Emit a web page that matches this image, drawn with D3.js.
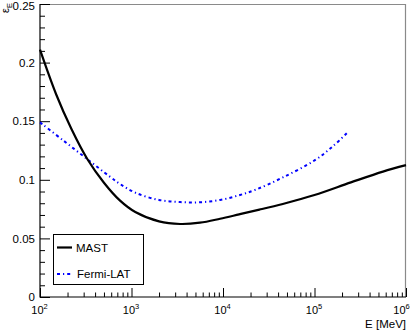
<!DOCTYPE html>
<html><head><meta charset="utf-8">
<script src="https://cdn.jsdelivr.net/npm/d3@7"></script>
<style>
html,body{margin:0;padding:0;background:#fff;}
svg{display:block;font-family:"Liberation Sans",Arial,Helvetica,sans-serif;}
</style></head>
<body>
<svg id="c" width="414" height="330"></svg>
<script>
// ---- data ----
const mastE = [100,150,220,330,500,750,1100,2000,3400,5600,9300,15000,25000,45000,100000,250000,560000,1000000];
const mastV = [0.211,0.173,0.1435,0.1175,0.0975,0.0822,0.0725,0.0645,0.0623,0.0634,0.0668,0.0705,0.0745,0.0794,0.087,0.0978,0.107,0.1125];
const fermiE = [100,180,330,580,750,1100,2000,3400,5600,9300,15000,23000,45000,100000,160000,225000];
const fermiV = [0.149,0.1335,0.1175,0.1027,0.0964,0.089,0.0828,0.081,0.0808,0.0828,0.0868,0.0917,0.102,0.1165,0.1288,0.1397];
const yTicks = [0,0.05,0.1,0.15,0.2,0.25];
const yTickLabels = ["0","0.05","0.1","0.15","0.2","0.25"];
const xTicks = [1e2,1e3,1e4,1e5,1e6];
const xTickExp = ["2","3","4","5","6"];
const seriesNames = ["MAST","Fermi-LAT"];

const svg = d3.select("#c");
const L=40, R=406, T=4, B=297;
const x = d3.scaleLog().domain([1e2,1e6]).range([L,R]);
const y = d3.scaleLinear().domain([0,0.25]).range([B,T]);

svg.append("rect").attr("width",414).attr("height",330).attr("fill","#fff");

// frame top/right
svg.append("line").attr("x1",L).attr("x2",R).attr("y1",T+0.5).attr("y2",T+0.5).attr("stroke","#8a8a8a").attr("stroke-width",1.2);
svg.append("line").attr("x1",R-0.5).attr("x2",R-0.5).attr("y1",T).attr("y2",B).attr("stroke","#8a8a8a").attr("stroke-width",1.2);

// y minor ticks
const yMinor = d3.range(0,26).map(i=>i/100).filter(v=>Math.round(v*100)%5!==0);
const gyMinor = svg.append("g").attr("transform",`translate(${L},0)`)
  .call(d3.axisLeft(y).tickValues(yMinor).tickSize(-5).tickFormat(""));
gyMinor.select(".domain").remove();
// y major
const gy = svg.append("g").attr("transform",`translate(${L},0)`)
  .call(d3.axisLeft(y).tickValues(yTicks).tickSize(-10).tickPadding(5)
    .tickFormat((d,i)=>yTickLabels[i]));
gy.select(".domain").remove();
gy.selectAll("text").attr("font-size",11.5).attr("fill","#000").attr("font-family","Liberation Sans, Arial, sans-serif")
  .attr("y",d=>d===0.25?2:0);
svg.selectAll(".tick line").attr("stroke","#000");

// x minor
const xMinor = [];
for (let d=2; d<6; d++) for (let m=2;m<=9;m++) xMinor.push(m*Math.pow(10,d));
const gxMinor = svg.append("g").attr("transform",`translate(0,${B})`)
  .call(d3.axisBottom(x).tickValues(xMinor).tickSize(-4.5).tickFormat(""));
gxMinor.select(".domain").remove();
const gx = svg.append("g").attr("transform",`translate(0,${B})`)
  .call(d3.axisBottom(x).tickValues(xTicks).tickSize(-9).tickFormat(""));
gx.select(".domain").remove();
svg.selectAll(".tick line").attr("stroke","#000");
gx.selectAll(".tick").each(function(d,i){
  const t = d3.select(this).append("text").attr("y",16.5).attr("text-anchor","middle")
    .attr("font-size",11).attr("fill","#000").attr("x",i===xTicks.length-1?-5:-1);
  t.append("tspan").text("10");
  t.append("tspan").attr("dy",-4.5).attr("font-size",7.5).text(xTickExp[i]);
});

// axis lines left/bottom
svg.append("line").attr("x1",L).attr("x2",L).attr("y1",T).attr("y2",B+0.5).attr("stroke","#000").attr("stroke-width",1.2);
svg.append("line").attr("x1",L).attr("x2",R).attr("y1",B).attr("y2",B).attr("stroke","#000").attr("stroke-width",1.2);

// axis titles
svg.append("text").attr("x",406).attr("y",327.5).attr("text-anchor","end").attr("font-size",11.5).text("E [MeV]");
const yt = svg.append("text").attr("transform","translate(9,3) rotate(-90)").attr("text-anchor","end").attr("font-size",11);
yt.append("tspan").text("ε");
yt.append("tspan").attr("dy",2.5).attr("font-size",7.5).text("E");

// curves
const line = d3.line().x(d=>x(d[0])).y(d=>y(d[1])).curve(d3.curveCatmullRom.alpha(0.5));
const mast = mastE.map((e,i)=>[e,mastV[i]]);
const fermi = fermiE.map((e,i)=>[e,fermiV[i]]);
svg.append("path").attr("d",line(fermi)).attr("fill","none").attr("stroke","#0000ff").attr("stroke-width",2).attr("stroke-dasharray","3,3,1.2,3");
svg.append("path").attr("d",line(mast)).attr("fill","none").attr("stroke","#000").attr("stroke-width",2.2);

// legend
svg.append("rect").attr("x",53.5).attr("y",234.5).attr("width",90).attr("height",50).attr("fill","#fff").attr("stroke","#000").attr("stroke-width",1);
svg.append("line").attr("x1",57).attr("x2",72).attr("y1",247.5).attr("y2",247.5).attr("stroke","#000").attr("stroke-width",2.2);
svg.append("text").attr("x",76).attr("y",251.5).attr("font-size",11.5).text(seriesNames[0]);
svg.append("line").attr("x1",57).attr("x2",72).attr("y1",274).attr("y2",274).attr("stroke","#0000ff").attr("stroke-width",2).attr("stroke-dasharray","3,3,1.2,3");
svg.append("text").attr("x",77).attr("y",278).attr("font-size",11.5).text(seriesNames[1]);
</script>
</body></html>
